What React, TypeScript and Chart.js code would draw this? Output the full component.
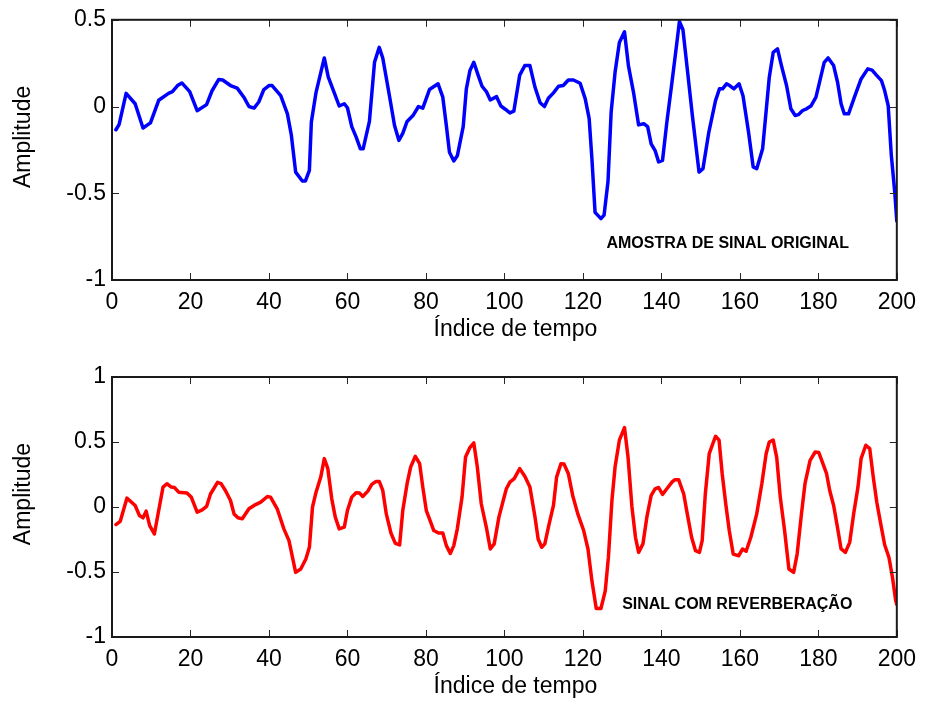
import React, { useEffect, useRef } from "react";
import { Chart, registerables } from "chart.js";

Chart.register(...registerables);

// ---- Data ----
const X_TICKS = [0, 20, 40, 60, 80, 100, 120, 140, 160, 180, 200];
const TOP_Y_TICKS = [-1, -0.5, 0, 0.5];
const BOT_Y_TICKS = [-1, -0.5, 0, 0.5, 1];

const X_TITLE = "Índice de tempo";
const Y_TITLE = "Amplitude";
const TOP_LABEL = "AMOSTRA DE SINAL ORIGINAL";
const BOT_LABEL = "SINAL COM REVERBERAÇÃO";

const TOP_X = [
  1.0, 1.8, 3.6, 5.9, 7.9, 9.8, 11.9, 14.4, 15.4, 16.7, 17.8, 19.8, 21.7, 24.1, 25.5, 27.2, 28.2, 30.2, 31.9, 33.6,
  34.9, 36.2, 37.4, 38.7, 40.0, 40.8, 43.0, 44.7, 45.7, 46.8, 48.5, 49.3, 50.3, 50.8, 52.0, 54.1, 55.1, 56.6, 57.9, 59.2,
  60.0, 61.1, 62.2, 63.3, 64.0, 65.6, 66.9, 68.1, 69.0, 70.7, 72.0, 73.1, 74.1, 75.2, 76.7, 78.1, 79.2, 80.9, 83.1, 84.3,
  85.2, 86.0, 87.1, 88.0, 89.5, 90.3, 91.2, 92.2, 93.3, 94.3, 95.4, 96.4, 98.0, 99.1, 100.3, 101.4, 102.4, 103.9, 105.2, 106.5,
  107.8, 109.1, 110.2, 111.2, 112.5, 113.8, 115.0, 116.3, 117.6, 119.3, 120.6, 121.6, 122.3, 123.1, 124.6, 125.4, 126.4, 127.2, 128.2, 129.3,
  130.6, 131.6, 132.9, 134.2, 135.5, 136.5, 137.4, 138.4, 139.3, 140.3, 141.4, 142.7, 143.8, 144.6, 145.5, 146.6, 147.9, 149.6, 150.6, 152.1,
  153.8, 154.8, 155.6, 156.6, 157.4, 158.5, 159.8, 160.8, 162.2, 163.4, 164.3, 165.8, 167.5, 168.5, 169.6, 170.6, 171.9, 173.0, 174.1, 174.9,
  176.0, 177.0, 178.1, 179.4, 180.4, 181.5, 182.5, 183.9, 184.9, 185.8, 186.6, 187.7, 189.2, 190.9, 192.6, 193.7, 194.8, 196.1, 196.9, 197.8,
  198.6, 199.5, 200.0,
];
const TOP_Y = [
  -0.134, -0.104, 0.076, 0.016, -0.124, -0.094, 0.036, 0.076, 0.086, 0.121, 0.136, 0.086, -0.024, 0.011, 0.091, 0.156, 0.153, 0.121, 0.106, 0.054,
  0.0, -0.009, 0.026, 0.098, 0.121, 0.121, 0.063, -0.042, -0.164, -0.378, -0.429, -0.429, -0.368, -0.09, 0.082, 0.28, 0.171, 0.082, 0.003, 0.016,
  -0.007, -0.116, -0.175, -0.244, -0.244, -0.086, 0.255, 0.341, 0.28, 0.062, -0.109, -0.195, -0.155, -0.086, -0.052, 0.0, -0.009, 0.098, 0.131, 0.054,
  -0.109, -0.264, -0.314, -0.284, -0.116, 0.102, 0.206, 0.255, 0.181, 0.117, 0.086, 0.038, 0.057, 0.003, -0.017, -0.037, -0.027, 0.181, 0.236, 0.236,
  0.111, 0.022, 0.0, 0.048, 0.079, 0.117, 0.121, 0.153, 0.153, 0.134, 0.044, -0.07, -0.301, -0.61, -0.646, -0.626, -0.432, -0.033, 0.197, 0.369,
  0.431, 0.236, 0.082, -0.106, -0.099, -0.116, -0.215, -0.254, -0.319, -0.31, -0.09, 0.14, 0.341, 0.49, 0.443, 0.217, -0.052, -0.378, -0.358, -0.147,
  0.034, 0.102, 0.102, 0.131, 0.121, 0.102, 0.131, 0.062, -0.145, -0.348, -0.358, -0.244, 0.169, 0.312, 0.332, 0.236, 0.121, -0.013, -0.052, -0.047,
  -0.023, -0.013, 0.003, 0.054, 0.149, 0.255, 0.28, 0.236, 0.14, 0.016, -0.042, -0.042, 0.054, 0.159, 0.217, 0.21, 0.181, 0.149, 0.092, 0.006,
  -0.281, -0.501, -0.66,
];

const BOT_X = [
  1.0, 2.1, 3.8, 5.9, 7.0, 7.9, 8.7, 9.6, 10.8, 11.9, 13.0, 14.0, 15.1, 15.9, 17.0, 19.1, 20.2, 21.7, 23.0, 24.1,
  25.1, 26.9, 27.8, 28.9, 30.2, 31.1, 32.1, 33.2, 34.9, 36.2, 37.9, 39.6, 40.4, 42.1, 43.8, 45.1, 46.8, 48.1, 49.4, 50.3,
  51.1, 52.0, 53.2, 54.1, 55.0, 56.0, 56.9, 57.9, 59.2, 60.0, 61.1, 62.2, 63.1, 63.9, 65.2, 66.2, 67.3, 68.1, 69.0, 69.9,
  71.1, 72.2, 73.3, 74.1, 75.2, 76.1, 77.3, 78.4, 79.2, 80.1, 80.9, 82.0, 83.2, 84.3, 85.2, 86.2, 87.1, 88.0, 89.2, 90.1,
  91.2, 92.2, 93.1, 94.1, 95.4, 96.4, 97.4, 98.6, 99.7, 100.5, 101.4, 102.5, 103.9, 105.2, 106.5, 107.8, 108.6, 109.5, 110.3, 111.4,
  112.5, 113.3, 114.4, 115.2, 116.3, 117.4, 118.7, 120.2, 121.3, 122.3, 123.4, 124.6, 125.7, 126.5, 127.4, 128.2, 129.3, 130.6, 131.5, 132.5,
  133.4, 134.2, 135.3, 136.3, 137.4, 138.4, 139.3, 140.3, 141.4, 142.7, 143.4, 144.4, 145.7, 146.6, 147.7, 148.7, 149.7, 150.4, 151.2, 152.2,
  153.8, 154.7, 155.5, 156.4, 157.3, 158.3, 159.7, 160.7, 161.6, 162.8, 164.3, 165.6, 166.7, 167.5, 168.5, 169.4, 170.3, 171.4, 172.5, 173.7,
  174.6, 175.7, 176.6, 177.9, 179.2, 180.1, 180.7, 182.1, 182.9, 183.9, 184.8, 185.8, 186.9, 188.0, 189.0, 190.1, 190.9, 192.1, 193.1, 194.0,
  194.9, 195.9, 196.9, 198.0, 198.9, 199.7, 200.0,
];
const BOT_Y = [
  -0.135, -0.11, 0.068, 0.012, -0.066, -0.083, -0.032, -0.143, -0.207, -0.027, 0.153, 0.179, 0.153, 0.15, 0.114, 0.107, 0.076, -0.04, -0.022, 0.004,
  0.1, 0.19, 0.18, 0.127, 0.05, -0.053, -0.083, -0.091, -0.014, 0.012, 0.037, 0.081, 0.076, -0.014, -0.168, -0.259, -0.503, -0.477, -0.4, -0.31,
  0.0, 0.114, 0.23, 0.372, 0.295, 0.063, -0.078, -0.168, -0.155, -0.027, 0.076, 0.11, 0.107, 0.081, 0.122, 0.174, 0.197, 0.197, 0.127, -0.053,
  -0.202, -0.28, -0.292, -0.027, 0.179, 0.307, 0.39, 0.333, 0.153, -0.027, -0.091, -0.181, -0.2, -0.2, -0.297, -0.357, -0.297, -0.168, 0.076, 0.385,
  0.457, 0.493, 0.307, 0.025, -0.156, -0.323, -0.284, -0.078, 0.05, 0.14, 0.191, 0.218, 0.295, 0.236, 0.153, -0.078, -0.246, -0.31, -0.284, -0.13,
  0.012, 0.23, 0.333, 0.33, 0.256, 0.089, -0.053, -0.181, -0.323, -0.568, -0.781, -0.781, -0.645, -0.388, 0.05, 0.307, 0.514, 0.611, 0.385, 0.0,
  -0.233, -0.349, -0.284, -0.078, 0.089, 0.14, 0.15, 0.097, 0.14, 0.191, 0.21, 0.21, 0.1, -0.053, -0.233, -0.336, -0.349, -0.259, 0.1, 0.41,
  0.544, 0.514, 0.256, 0.025, -0.181, -0.362, -0.375, -0.323, -0.34, -0.233, -0.053, 0.179, 0.41, 0.5, 0.514, 0.38, 0.076, -0.181, -0.477, -0.503,
  -0.362, -0.053, 0.179, 0.359, 0.423, 0.42, 0.372, 0.256, 0.127, 0.012, -0.143, -0.323, -0.349, -0.272, -0.053, 0.153, 0.372, 0.475, 0.449, 0.23,
  0.037, -0.13, -0.29, -0.388, -0.542, -0.717, -0.75,
];

const FONT = '"Liberation Sans", Arial, Helvetica, sans-serif';

function makeBoxPlugin(label: string, lx: number, ly: number) {
  return {
    id: "boxAndLabel",
    afterDraw(chart: any) {
      const { ctx, chartArea: a, scales } = chart;
      const xs = scales.x;
      const ys = scales.y;
      ctx.save();
      ctx.strokeStyle = "#262626";
      ctx.lineWidth = 1;
      const tl = 7;
      xs.ticks.forEach((t: any) => {
        const px = Math.round(xs.getPixelForValue(t.value)) + 0.5;
        ctx.beginPath();
        ctx.moveTo(px, a.bottom);
        ctx.lineTo(px, a.bottom - tl);
        ctx.moveTo(px, a.top);
        ctx.lineTo(px, a.top + tl);
        ctx.stroke();
      });
      ys.ticks.forEach((t: any) => {
        const py = Math.round(ys.getPixelForValue(t.value)) + 0.5;
        ctx.beginPath();
        ctx.moveTo(a.left, py);
        ctx.lineTo(a.left + tl, py);
        ctx.moveTo(a.right, py);
        ctx.lineTo(a.right - tl, py);
        ctx.stroke();
      });
      ctx.strokeStyle = "#1a1a1a";
      ctx.lineWidth = 2;
      ctx.strokeRect(a.left, a.top, a.right - a.left, a.bottom - a.top);

      // in-plot label
      ctx.fillStyle = "#000";
      ctx.font = `bold 16px ${FONT}`;
      ctx.textAlign = "left";
      ctx.textBaseline = "middle";
      ctx.fillText(label, xs.getPixelForValue(lx), ys.getPixelForValue(ly));

      // axis titles
      ctx.font = `23px ${FONT}`;
      ctx.textAlign = "center";
      ctx.textBaseline = "middle";
      ctx.fillText(X_TITLE, (a.left + a.right) / 2 + 11, a.bottom + 50);
      ctx.translate(24, (a.top + a.bottom) / 2 - 13);
      ctx.rotate(-Math.PI / 2);
      ctx.fillText(Y_TITLE, 0, 0);
      ctx.restore();
    },
  };
}

function buildConfig(
  xs: number[],
  ys: number[],
  color: string,
  yTicks: number[],
  topPad: number,
  label: string,
  lx: number,
  ly: number
): any {
  return {
    type: "line",
    data: {
      datasets: [
        {
          data: xs.map((x, i) => ({ x, y: ys[i] })),
          borderColor: color,
          borderWidth: 3.5,
          borderJoinStyle: "round",
          borderCapStyle: "round",
          pointRadius: 0,
          tension: 0,
          fill: false,
        },
      ],
    },
    options: {
      animation: false,
      responsive: false,
      maintainAspectRatio: false,
      layout: { padding: { left: 0, right: 27, top: topPad, bottom: 0 } },
      plugins: { legend: { display: false }, tooltip: { enabled: false } },
      scales: {
        x: {
          type: "linear",
          min: X_TICKS[0],
          max: X_TICKS[X_TICKS.length - 1],
          afterBuildTicks: (s: any) => {
            s.ticks = X_TICKS.map((v) => ({ value: v }));
          },
          afterFit: (s: any) => {
            s.height = 70;
          },
          grid: { display: false, drawTicks: false },
          border: { display: false },
          ticks: {
            color: "#000",
            padding: 9,
            maxRotation: 0,
            autoSkip: false,
            font: { family: FONT, size: 23 },
            callback: (v: any) => String(v),
          },
          title: { display: false },
        },
        y: {
          type: "linear",
          min: yTicks[0],
          max: yTicks[yTicks.length - 1],
          afterBuildTicks: (s: any) => {
            s.ticks = yTicks.map((v) => ({ value: v }));
          },
          afterFit: (s: any) => {
            s.width = 112;
          },
          grid: { display: false, drawTicks: false },
          border: { display: false },
          ticks: {
            color: "#000",
            padding: 6,
            autoSkip: false,
            font: { family: FONT, size: 23 },
            callback: (v: any) => String(v),
          },
          title: { display: false },
        },
      },
    },
    plugins: [makeBoxPlugin(label, lx, ly)],
  };
}

function Panel(props: { cfg: () => any; top: number }) {
  const ref = useRef<HTMLCanvasElement | null>(null);
  useEffect(() => {
    if (!ref.current) return;
    const chart = new Chart(ref.current, props.cfg());
    return () => chart.destroy();
  }, []);
  return (
    <canvas
      ref={ref}
      width={925}
      height={350}
      style={{ position: "absolute", left: 0, top: props.top, width: 925, height: 350 }}
    />
  );
}

export default function App() {
  return (
    <div style={{ position: "absolute", left: 0, top: 0, width: 925, height: 707, background: "#fff" }}>
      <Panel
        top={0}
        cfg={() => buildConfig(TOP_X, TOP_Y, "#0000ff", TOP_Y_TICKS, 19, TOP_LABEL, 126, -0.79)}
      />
      <Panel
        top={357}
        cfg={() => buildConfig(BOT_X, BOT_Y, "#ff0000", BOT_Y_TICKS, 20, BOT_LABEL, 130, -0.75)}
      />
    </div>
  );
}
